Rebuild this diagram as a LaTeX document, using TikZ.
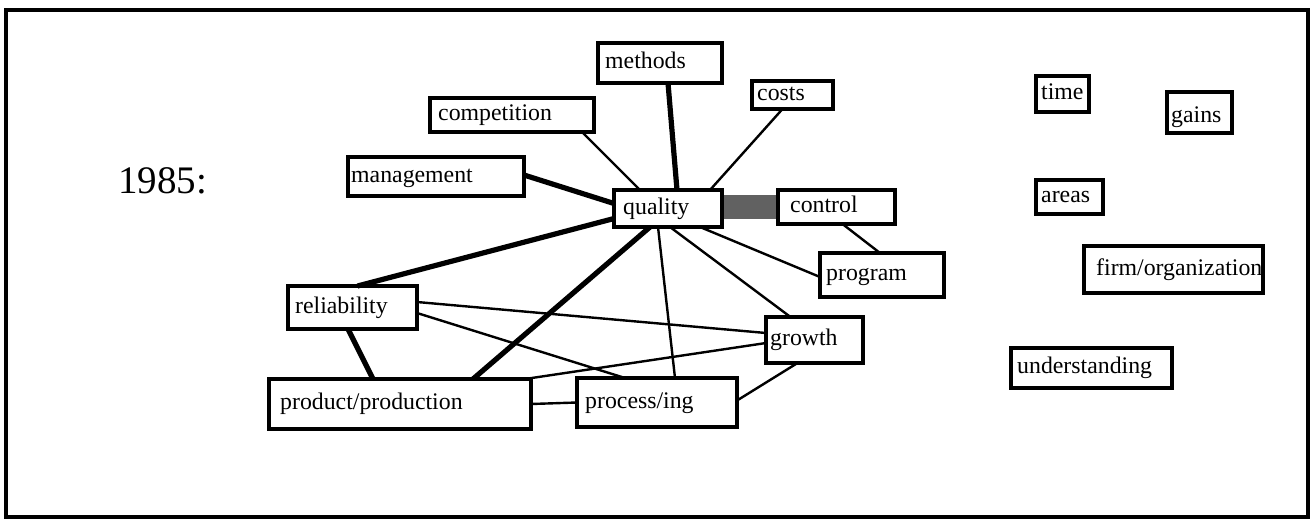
\documentclass[tikz,border=0pt]{standalone}
\usepackage{fontspec}
\setmainfont{Liberation Serif}
\usetikzlibrary{calc}
\pgfdeclarelayer{bg}
\pgfsetlayers{bg,main}
\newcommand\mybox[7]{%
  \node[box, minimum width=#4pt, minimum height=#5pt] (#1) at (#2,#3) {};
  \node[lbl] at ($(#1.west)+(#6,0)$) {#7};}
\begin{document}
\begin{tikzpicture}[x=1pt,y=-1pt,
  box/.style={draw, line width=3.2pt, anchor=north west, inner sep=0pt, outer sep=0pt},
  lbl/.style={inner sep=0pt, anchor=west, font=\fontsize{23.8}{26}\selectfont, text height=16pt, text depth=5pt},
  weak/.style={line width=2.4pt},
  strong/.style={line width=5.2pt},
  band/.style={line width=24pt, draw=black!62}
]
\useasboundingbox (0,0) rectangle (1316,520);
\draw[line width=3.2pt] (6,10) rectangle (1308,517);

\node[anchor=west, inner sep=0pt, font=\fontsize{39}{44}\selectfont] (year) at (118,181) {1985:};

\mybox{methods}{598}{43}{124}{40}{7}{methods}
\mybox{costs}{752}{81}{81}{28}{5}{costs}
\mybox{competition}{430}{98}{164}{34}{8}{competition}
\mybox{management}{348}{157}{176}{39}{3}{management}
\mybox{quality}{614}{190}{108}{37}{9}{quality}
\mybox{control}{778}{190}{117}{34}{12}{control}
\mybox{program}{820}{253}{124}{44}{6}{program}
\mybox{reliability}{288}{286}{129}{43}{7}{reliability}
\mybox{growth}{766}{317}{97}{46}{4}{growth}
\mybox{product}{269}{379}{262}{50}{11}{product/production}
\mybox{process}{577}{378}{160}{49}{8}{process/ing}
\mybox{time}{1036}{76}{53}{36}{5}{time}
\node[box, minimum width=65pt, minimum height=41pt] (gains) at (1167,92) {};
\node[lbl] at ($(gains.west)+(4,4)$) {gains};
\mybox{areas}{1036}{180}{67}{34}{5}{areas}
\mybox{firm}{1084}{246}{179}{47}{12}{firm/organization}
\mybox{understanding}{1011}{348}{161}{40}{6}{understanding}

\begin{pgfonlayer}{bg}
\draw[band] ($(quality.east)+(0,-1.5)$) -- (control.west);
\draw[strong] ($(methods.south)+(8,0)$) -- ($(quality.north)+(9,0)$);
\draw[weak] ($(costs.south)+(-10,0)$) -- ($(quality.north)+(42,0)$);
\draw[weak] ($(competition.south)+(70,0)$) -- ($(quality.north)+(-28,0)$);
\draw[strong] ($(management.east)+(0,-1.5)$) -- ($(quality.west)+(0,-5)$);
\draw[strong] ($(quality.west)+(0,10)$) -- ($(reliability.north)+(5,0)$);
\draw[strong] ($(quality.south)+(-18,0)$) -- ($(product.north)+(73,0)$);
\draw[weak] ($(quality.south)+(-10,0)$) -- ($(process.north)+(18,0)$);
\draw[weak] ($(quality.south)+(2,0)$) -- ($(growth.north)+(-24,0)$);
\draw[weak] ($(quality.south)+(32,0)$) -- ($(program.west)+(0,2)$);
\draw[weak] ($(control.south)+(6,0)$) -- ($(program.north)+(-2,0)$);
\draw[weak] ($(reliability.east)+(0,-5.5)$) -- ($(growth.west)+(0,-7)$);
\draw[weak] ($(reliability.east)+(0,5.5)$) -- ($(process.north)+(-32,0)$);
\draw[strong] ($(reliability.south)+(-4.5,0)$) -- ($(product.north)+(-27,0)$);
\draw[weak] ($(product.north)+(125,0)$) -- ($(growth.west)+(0,3)$);
\draw[weak] (product.east) -- (process.west);
\draw[weak] ($(process.east)+(0,-2)$) -- ($(growth.south)+(-17,0)$);
\end{pgfonlayer}
\end{tikzpicture}
\end{document}
